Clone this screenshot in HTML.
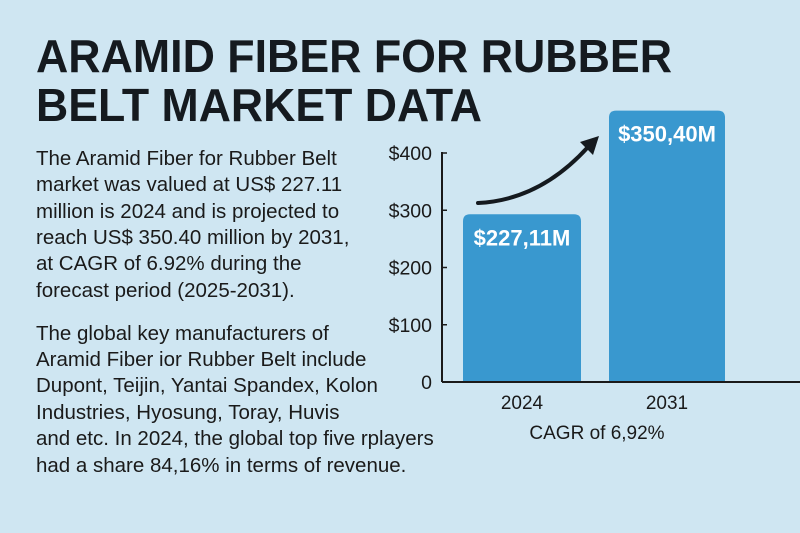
<!DOCTYPE html>
<html><head><meta charset="utf-8"><style>
html,body{margin:0;padding:0;background:#cfe6f2;}
svg{display:block;font-family:"Liberation Sans",sans-serif;}
</style></head><body>
<svg id="chart" width="800" height="533" viewBox="0 0 800 533">
<rect width="800" height="533" fill="#cfe6f2"/>
<g fill="#151a1f" font-weight="bold" font-size="46">
<text x="36" y="72" textLength="636" lengthAdjust="spacingAndGlyphs">ARAMID FIBER FOR RUBBER</text>
<text x="36" y="121" textLength="446" lengthAdjust="spacingAndGlyphs">BELT MARKET DATA</text>
</g>
<g fill="#1a1a1a" font-size="20.5">
<text x="36" y="165">The Aramid Fiber for Rubber Belt</text>
<text x="36" y="191">market was valued at US$ 227.11</text>
<text x="36" y="218">million is 2024 and is projected to</text>
<text x="36" y="244">reach US$ 350.40 million by 2031,</text>
<text x="36" y="270">at CAGR of 6.92% during the</text>
<text x="36" y="297">forecast period (2025-2031).</text>
<text x="36" y="340">The global key manufacturers of</text>
<text x="36" y="366">Aramid Fiber  ior Rubber Belt include</text>
<text x="36" y="392">Dupont, Teijin, Yantai Spandex, Kolon</text>
<text x="36" y="419">Industries, Hyosung, Toray, Huvis</text>
<text x="36" y="445">and etc. In 2024, the global top five rplayers</text>
<text x="36" y="472">had a share 84,16% in terms of revenue.</text>
</g>
<g id="plot"></g>
</svg>
<script>
const categories = ["2024", "2031"];
const values = [293, 474];
const valueLabels = ["$227,11M", "$350,40M"];
const ticks = [0, 100, 200, 300, 400];
const tickLabels = ["0", "$100", "$200", "$300", "$400"];

const NS = "http://www.w3.org/2000/svg";
const g = document.getElementById("plot");
const y0 = 382, pxPerUnit = 0.5725, axisX = 442;
const y = v => y0 - v * pxPerUnit;
const barX = [463, 609], barW = [118, 116];
function mk(tag, attrs, text) {
  const e = document.createElementNS(NS, tag);
  for (const k in attrs) e.setAttribute(k, attrs[k]);
  if (text !== undefined) e.textContent = text;
  g.appendChild(e);
  return e;
}
categories.forEach((c, i) => {
  const top = y(values[i]);
  const r = 7;
  const x = barX[i], w = barW[i];
  const b = mk("path", {d: `M${x},${y0} V${top + r} Q${x},${top} ${x + r},${top} H${x + w - r} Q${x + w},${top} ${x + w},${top + r} V${y0} Z`, fill: "#3998cf"});
  
  
  const vl = mk("text", {x: x + w / 2, y: top + 31, "text-anchor": "middle", fill: "#fff", "font-size": "22", "font-weight": "bold"}, valueLabels[i]);
  
  
  const xl = mk("text", {x: x + w / 2, y: 409, "text-anchor": "middle", fill: "#1a1a1a", "font-size": "19"}, c);
  
  
});
ticks.forEach((t, i) => {
  const tl = mk("text", {x: 432, y: y(t) + 7, "text-anchor": "end", fill: "#1a1a1a", "font-size": "19.5"}, tickLabels[i]);
  
  
  const tk = mk("line", {x1: axisX, x2: axisX + 5, y1: y(t), y2: y(t), stroke: "#1a1a1a", "stroke-width": "1.5"});
  
  
});
const ya = mk("line", {x1: axisX, x2: axisX, y1: y(400) - 1, y2: y0, stroke: "#1a1a1a", "stroke-width": "2"});


const xa = mk("line", {x1: axisX, x2: 800, y1: y0, y2: y0, stroke: "#1a1a1a", "stroke-width": "2"});


const arrow = mk("path", {d: "M478,203 Q540,200 588,147", fill: "none", stroke: "#151a1f", "stroke-width": "4", "stroke-linecap": "round"});


const head = mk("path", {d: "M599,136 L580,142 L593,155 Z", fill: "#151a1f"});


const cagr = mk("text", {x: 597, y: 439, "text-anchor": "middle", fill: "#1a1a1a", "font-size": "19"}, "CAGR of 6,92%");


</script>
</body></html>
